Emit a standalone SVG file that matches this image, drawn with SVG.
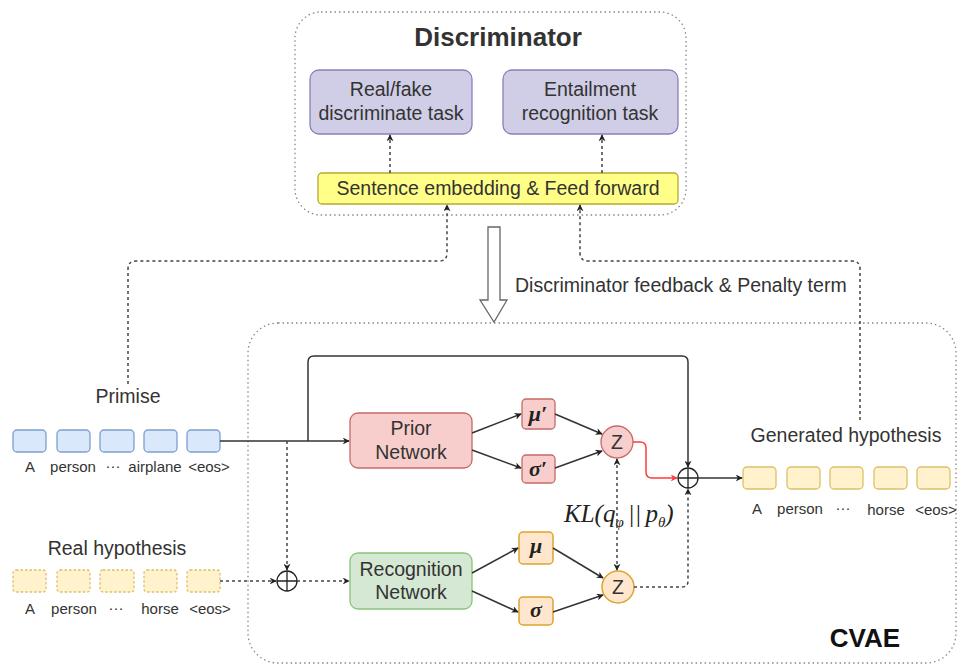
<svg xmlns="http://www.w3.org/2000/svg" width="958" height="667" viewBox="0 0 958 667">
  <style>
    text { font-family: "Liberation Sans", Arial, sans-serif; fill: #333; }
    .frame { fill: none; stroke: #888; stroke-width: 1.3; stroke-dasharray: 1.5 3; }
    .title { font-size: 26px; font-weight: bold; }
    .lbl { font-size: 19.5px; }
    .tok { font-size: 15px; }
    .task { fill: #d0cde6; stroke: #8a7fb8; stroke-width: 1.3; }
    .emb { fill: #ffff88; stroke: #b8a935; stroke-width: 1.3; }
    .blue { fill: #dae8fc; stroke: #7d9fd0; stroke-width: 1.3; }
    .gen { fill: #fff2cc; stroke: #dcc068; stroke-width: 1.3; }
    .real { fill: #fff2cc; stroke: #dcc068; stroke-width: 1.3; stroke-dasharray: 2.5 2; }
    .red { fill: #f8cecc; stroke: #c56a66; stroke-width: 1.3; }
    .green { fill: #d5e8d4; stroke: #8cc27a; stroke-width: 1.3; }
    .orange { fill: #ffe6cc; stroke: #dba530; stroke-width: 1.5; }
    .solid { fill: none; stroke: #333; stroke-width: 1.5; }
    .dash { fill: none; stroke: #444; stroke-width: 1.5; stroke-dasharray: 3 3; }
    .redline { fill: none; stroke: #ff3b3b; stroke-width: 1.5; }
    .sum { fill: #fff; stroke: #222; stroke-width: 1.3; }
    .math { font-family: "Liberation Serif", "Times New Roman", serif; font-style: italic; fill: #222; }
  </style>
  <defs>
    <marker id="arr" viewBox="0 0 10 10" refX="9" refY="5" markerWidth="7" markerHeight="7" orient="auto-start-reverse" markerUnits="userSpaceOnUse">
      <path d="M0,0 L10,5 L0,10 L3,5 Z" fill="#222"/>
    </marker>
    <marker id="arrRed" viewBox="0 0 10 10" refX="9" refY="5" markerWidth="7" markerHeight="7" orient="auto" markerUnits="userSpaceOnUse">
      <path d="M0,0 L10,5 L0,10 L3,5 Z" fill="#ff3b3b"/>
    </marker>
  </defs>

  <!-- container frames -->
  <rect class="frame" x="295" y="12" width="391" height="203" rx="26"/>
  <rect class="frame" x="248" y="323" width="708" height="340" rx="30"/>
  <text class="title" x="498" y="46" text-anchor="middle">Discriminator</text>
  <text class="title" x="865" y="647" text-anchor="middle" style="fill:#111">CVAE</text>

  <!-- discriminator nodes -->
  <g id="task-realfake">
    <rect class="task" x="310" y="70" width="162" height="64" rx="9"/>
    <text class="lbl" x="391" y="96" text-anchor="middle">Real/fake</text>
    <text class="lbl" x="391" y="120" text-anchor="middle">discriminate task</text>
  </g>
  <g id="task-entail">
    <rect class="task" x="503" y="70" width="175" height="64" rx="9"/>
    <text class="lbl" x="590" y="96" text-anchor="middle">Entailment</text>
    <text class="lbl" x="590" y="120" text-anchor="middle">recognition task</text>
  </g>
  <g id="embedding">
    <rect class="emb" x="318" y="173" width="360" height="31" rx="4"/>
    <text class="lbl" x="498" y="195" text-anchor="middle">Sentence embedding &amp; Feed forward</text>
  </g>

  <!-- feedback arrow -->
  <g id="feedback">
    <path d="M488,227 L500,227 L500,300 L507,300 L494,322 L480,300 L488,300 Z" fill="#fff" stroke="#666" stroke-width="1.3"/>
    <text class="lbl" x="515" y="292">Discriminator feedback &amp; Penalty term</text>
  </g>

  <!-- premise tokens -->
  <g id="premise">
    <text class="lbl" x="128" y="403" text-anchor="middle">Primise</text>
    <rect class="blue" x="13" y="430" width="33" height="22" rx="4"/>
    <rect class="blue" x="57" y="430" width="33" height="22" rx="4"/>
    <rect class="blue" x="100" y="430" width="34" height="22" rx="4"/>
    <rect class="blue" x="144" y="430" width="33" height="22" rx="4"/>
    <rect class="blue" x="187" y="430" width="33" height="22" rx="4"/>
    <text class="tok" x="30" y="472" text-anchor="middle">A</text>
    <text class="tok" x="73" y="472" text-anchor="middle">person</text>
    <text class="tok" x="113" y="471" text-anchor="middle">···</text>
    <text class="tok" x="155" y="472" text-anchor="middle">airplane</text>
    <text class="tok" x="209" y="472" text-anchor="middle">&lt;eos&gt;</text>
  </g>

  <!-- real hypothesis tokens -->
  <g id="real-hypothesis">
    <text class="lbl" x="117" y="555" text-anchor="middle">Real hypothesis</text>
    <rect class="real" x="13" y="570" width="33" height="22" rx="3"/>
    <rect class="real" x="57" y="570" width="33" height="22" rx="3"/>
    <rect class="real" x="100" y="570" width="34" height="22" rx="3"/>
    <rect class="real" x="144" y="570" width="33" height="22" rx="3"/>
    <rect class="real" x="187" y="570" width="33" height="22" rx="3"/>
    <text class="tok" x="30" y="614" text-anchor="middle">A</text>
    <text class="tok" x="74" y="614" text-anchor="middle">person</text>
    <text class="tok" x="116" y="613" text-anchor="middle">···</text>
    <text class="tok" x="160" y="614" text-anchor="middle">horse</text>
    <text class="tok" x="210" y="614" text-anchor="middle">&lt;eos&gt;</text>
  </g>

  <!-- generated hypothesis tokens -->
  <g id="generated-hypothesis">
    <text class="lbl" x="846" y="442" text-anchor="middle">Generated hypothesis</text>
    <rect class="gen" x="743" y="467" width="33" height="22" rx="4"/>
    <rect class="gen" x="787" y="467" width="33" height="22" rx="4"/>
    <rect class="gen" x="830" y="467" width="33" height="22" rx="4"/>
    <rect class="gen" x="874" y="467" width="33" height="22" rx="4"/>
    <rect class="gen" x="917" y="467" width="33" height="22" rx="4"/>
    <text class="tok" x="757" y="514" text-anchor="middle">A</text>
    <text class="tok" x="800" y="514" text-anchor="middle">person</text>
    <text class="tok" x="843" y="513" text-anchor="middle">···</text>
    <text class="tok" x="886" y="515" text-anchor="middle">horse</text>
    <text class="tok" x="936" y="515" text-anchor="middle">&lt;eos&gt;</text>
  </g>

  <!-- CVAE nodes -->
  <g id="prior-network">
    <rect class="red" x="350" y="413" width="122" height="55" rx="8"/>
    <text class="lbl" x="411" y="435" text-anchor="middle">Prior</text>
    <text class="lbl" x="411" y="459" text-anchor="middle">Network</text>
  </g>
  <g id="recognition-network">
    <rect class="green" x="350" y="553" width="122" height="56" rx="8"/>
    <text class="lbl" x="411" y="576" text-anchor="middle">Recognition</text>
    <text class="lbl" x="411" y="599" text-anchor="middle">Network</text>
  </g>
  <g id="mu-prime">
    <rect class="red" x="522" y="399" width="33" height="30" rx="4"/>
    <text class="math" x="538" y="421" font-size="22" font-weight="bold" text-anchor="middle">μ′</text>
  </g>
  <g id="sigma-prime">
    <rect class="red" x="522" y="455" width="33" height="28" rx="4"/>
    <text class="math" x="538" y="476" font-size="22" font-weight="bold" text-anchor="middle">σ′</text>
  </g>
  <g id="mu">
    <rect class="orange" x="519" y="532" width="34" height="32" rx="4"/>
    <text class="math" x="536" y="553" font-size="22" font-weight="bold" text-anchor="middle">μ</text>
  </g>
  <g id="sigma">
    <rect class="orange" x="519" y="597" width="34" height="28" rx="4"/>
    <text class="math" x="536" y="617" font-size="22" font-weight="bold" text-anchor="middle">σ</text>
  </g>
  <g id="z-prior">
    <circle class="red" cx="617" cy="442" r="16"/>
    <text class="lbl" x="617" y="449" text-anchor="middle">Z</text>
  </g>
  <g id="z-post">
    <circle class="orange" cx="618" cy="587" r="16"/>
    <text class="lbl" x="618" y="594" text-anchor="middle">Z</text>
  </g>
  <g id="sum-input">
    <circle class="sum" cx="287" cy="581" r="10"/>
    <path d="M277,581 H297 M287,571 V591" stroke="#222" stroke-width="1.3"/>
  </g>
  <g id="sum-output">
    <circle class="sum" cx="688" cy="478" r="10"/>
    <path d="M678,478 H698 M688,468 V488" stroke="#222" stroke-width="1.3"/>
  </g>
  <g id="kl-label">
    <text class="math" x="564" y="522" font-size="25">KL(q<tspan font-size="15" dy="5">φ</tspan><tspan dx="4" dy="-5">||</tspan><tspan dx="4">p</tspan><tspan font-size="15" dy="5">θ</tspan><tspan dy="-5">)</tspan></text>
  </g>

  <!-- connectors -->
  <g id="connectors">
    <!-- discriminator internals -->
    <path class="dash" d="M390,173 V135" marker-end="url(#arr)"/>
    <path class="dash" d="M602,173 V135" marker-end="url(#arr)"/>
    <!-- premise to discriminator -->
    <path class="dash" d="M128,384 V269 Q128,261 136,261 H439 Q447,261 447,253 V205" marker-end="url(#arr)"/>
    <!-- generated hypothesis to discriminator -->
    <path class="dash" d="M860,420 V269 Q860,261 852,261 H588 Q580,261 580,253 V205" marker-end="url(#arr)"/>
    <!-- premise into prior network -->
    <path class="solid" d="M220,441 H349" marker-end="url(#arr)"/>
    <!-- premise skip path to output sum -->
    <path class="solid" d="M308,441 V362 Q308,356 314,356 H682 Q688,356 688,362 V467" marker-end="url(#arr)"/>
    <!-- premise to input sum -->
    <path class="dash" d="M287,441 V570" marker-end="url(#arr)"/>
    <!-- real hypothesis to input sum -->
    <path class="dash" d="M220,581 H276" marker-end="url(#arr)"/>
    <!-- input sum to recognition -->
    <path class="dash" d="M297,581 H349" marker-end="url(#arr)"/>
    <!-- prior network heads -->
    <path class="solid" d="M472,433 L521,414" marker-end="url(#arr)"/>
    <path class="solid" d="M472,450 L521,468" marker-end="url(#arr)"/>
    <path class="solid" d="M555,414 L602,434" marker-end="url(#arr)"/>
    <path class="solid" d="M555,468 L602,451" marker-end="url(#arr)"/>
    <!-- recognition network heads -->
    <path class="solid" d="M472,573 L518,548" marker-end="url(#arr)"/>
    <path class="solid" d="M472,591 L518,612" marker-end="url(#arr)"/>
    <path class="solid" d="M553,548 L603,578" marker-end="url(#arr)"/>
    <path class="solid" d="M553,612 L603,595" marker-end="url(#arr)"/>
    <!-- KL between latents -->
    <path class="dash" d="M617,459 V570" marker-start="url(#arr)" marker-end="url(#arr)"/>
    <!-- latent (prior) to output sum -->
    <path class="redline" d="M633,442 H640 Q646,442 646,448 V472 Q646,478 652,478 H677" marker-end="url(#arrRed)"/>
    <!-- latent (posterior) to output sum -->
    <path class="dash" d="M634,587 H682 Q688,587 688,581 V489" marker-end="url(#arr)"/>
    <!-- output sum to generated tokens -->
    <path class="solid" d="M698,478 H742" marker-end="url(#arr)"/>
  </g>
</svg>
